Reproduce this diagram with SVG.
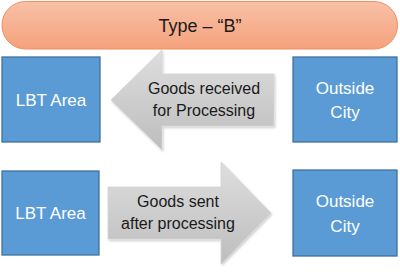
<svg xmlns="http://www.w3.org/2000/svg" width="400" height="275" viewBox="0 0 400 275">
<defs>
<linearGradient id="pill" x1="0" y1="0" x2="0" y2="1">
<stop offset="0" stop-color="#F8C0A6"/>
<stop offset="1" stop-color="#F5A27C"/>
</linearGradient>
<linearGradient id="arrowGrad" x1="0" y1="0" x2="0" y2="1">
<stop offset="0" stop-color="#DEDEDE"/>
<stop offset="1" stop-color="#BDBDBD"/>
</linearGradient>
<filter id="shadow" x="-10%" y="-10%" width="130%" height="130%">
<feDropShadow dx="1" dy="1.5" stdDeviation="1" flood-color="#000" flood-opacity="0.2"/>
</filter>
</defs>
<style>
.box{fill:#5B9BD5;stroke:#41719C;stroke-width:1.3}
.arrow{fill:url(#arrowGrad);stroke:#D4D4D4;stroke-width:0.8;filter:url(#shadow)}
.wt{font-family:"Liberation Sans",Arial,sans-serif;font-size:17px;fill:#FFFFFF;text-anchor:middle}
.at{font-family:"Liberation Sans",Arial,sans-serif;font-size:16px;fill:#1A1A1A;text-anchor:middle}
.tt{font-family:"Liberation Sans",Arial,sans-serif;font-size:18px;fill:#1A1A1A;text-anchor:middle}
</style>
<g id="title">
<rect x="2" y="1.5" width="395.5" height="47.5" rx="23.5" ry="23.5" fill="url(#pill)" stroke="#F08E5E" stroke-width="1"/>
<text class="tt" x="200" y="32">Type – “B”</text>
</g>
<g id="connectors">
<g id="arrow-received">
<polygon class="arrow" points="274,74 162,74 162,50 111,100 162,150 162,126 274,126"/>
<text class="at" x="204" y="94">Goods received</text>
<text class="at" x="204" y="116">for Processing</text>
</g>
<g id="arrow-sent">
<polygon class="arrow" points="108,187 221,187 221,162 271,213 221,264 221,239 108,239"/>
<text class="at" x="178" y="207">Goods sent</text>
<text class="at" x="178" y="229">after processing</text>
</g>
</g>
<g id="lbt-top">
<rect class="box" x="2" y="57" width="98" height="85"/>
<text class="wt" x="51" y="106">LBT Area</text>
</g>
<g id="outside-top">
<rect class="box" x="293" y="57" width="104" height="85"/>
<text class="wt" x="345" y="94">Outside</text>
<text class="wt" x="345" y="118">City</text>
</g>
<g id="lbt-bottom">
<rect class="box" x="2" y="171" width="97" height="84"/>
<text class="wt" x="50.5" y="219">LBT Area</text>
</g>
<g id="outside-bottom">
<rect class="box" x="293" y="170" width="104" height="86"/>
<text class="wt" x="345" y="207">Outside</text>
<text class="wt" x="345" y="232">City</text>
</g>
</svg>
